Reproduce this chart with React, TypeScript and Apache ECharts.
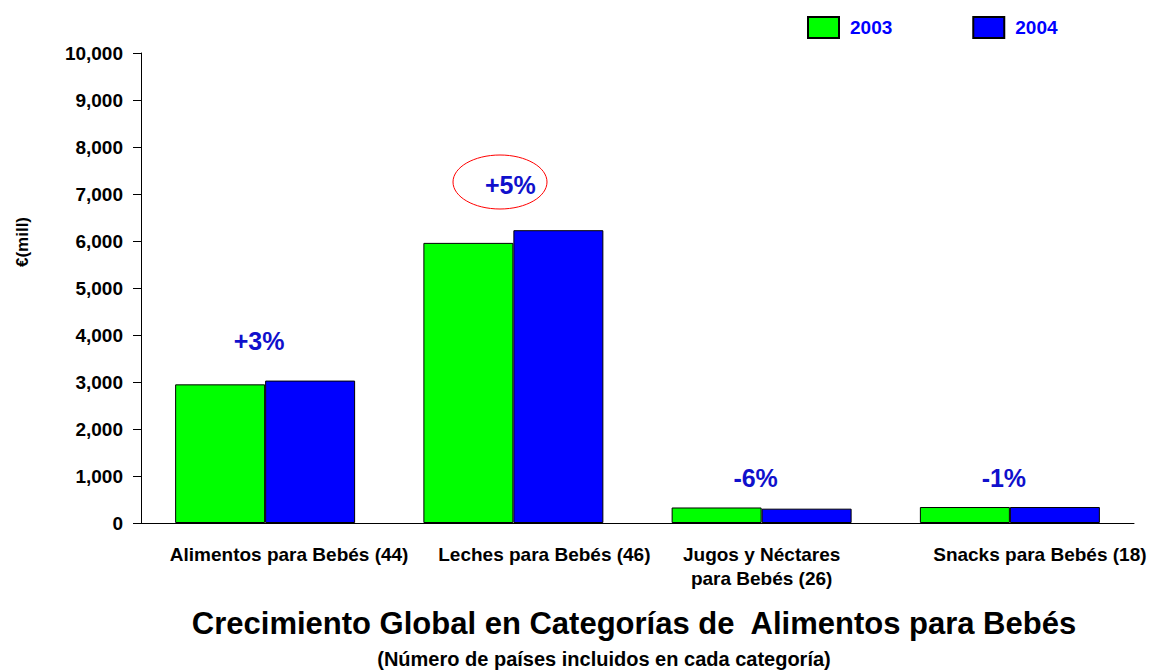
import React, { useEffect, useRef } from "react";
import * as echarts from "echarts";

const categories = [
  "Alimentos para Bebés (44)",
  "Leches para Bebés (46)",
  "Jugos y Néctares\npara Bebés (26)",
  "Snacks para Bebés (18)",
];
const values2003 = [2950, 5960, 330, 340];
const values2004 = [3030, 6230, 305, 340];
const growthLabels = ["+3%", "+5%", "-6%", "-1%"];
const yTicks = [0, 1000, 2000, 3000, 4000, 5000, 6000, 7000, 8000, 9000, 10000];

const FONT = "Liberation Sans, Arial, sans-serif";
const labelOffsets = [48, 62, 0, 60];
const growthY = [341, 185, 478, 478];

export default function App() {
  const ref = useRef<HTMLDivElement>(null);
  useEffect(() => {
    const chart = echarts.init(ref.current!, null, { renderer: "svg" });
    const rich: any = {};
    labelOffsets.forEach((o, i) => {
      rich["c" + i] = {
        fontFamily: FONT,
        fontWeight: "bold",
        fontSize: 19,
        color: "#000",
        lineHeight: 24,
        padding: [0, 0, 0, o],
      };
    });
    chart.setOption({
      animation: false,
      backgroundColor: "#fff",
      textStyle: { fontFamily: FONT },
      title: [
        {
          text: "Crecimiento Global en Categorías de  Alimentos para Bebés",
          left: 634,
          top: 608,
          textAlign: "center",
          padding: 0,
          textStyle: { fontFamily: FONT, fontWeight: "bold", fontSize: 31, color: "#000" },
        },
        {
          text: "(Número de países incluidos en cada categoría)",
          left: 604,
          top: 649,
          textAlign: "center",
          padding: 0,
          textStyle: { fontFamily: FONT, fontWeight: "bold", fontSize: 20, color: "#000" },
        },
      ],
      legend: {
        top: 16,
        left: 807,
        padding: 0,
        icon: "rect",
        itemWidth: 31,
        itemHeight: 21,
        itemGap: 80,
        textStyle: {
          fontFamily: FONT,
          fontWeight: "bold",
          fontSize: 19,
          color: "#0000FF",
          padding: [0, 0, 0, 6],
        },
        data: ["2003", "2004"],
      },
      grid: { left: 141, top: 53, right: 20, bottom: 148 },
      xAxis: {
        type: "category",
        data: categories,
        axisLine: { lineStyle: { color: "#000", width: 1 } },
        axisTick: { show: false },
        axisLabel: {
          interval: 0,
          margin: 19,
          formatter: (v: string, i: number) =>
            v.split("\n").map((l) => `{c${i}|${l}}`).join("\n"),
          rich,
        },
      },
      yAxis: {
        type: "value",
        min: 0,
        max: 10000,
        interval: 1000,
        axisLine: { show: true, lineStyle: { color: "#000", width: 1 } },
        axisTick: { show: true, length: 8, lineStyle: { color: "#000" } },
        splitLine: { show: false },
        axisLabel: {
          margin: 18,
          fontFamily: FONT,
          fontWeight: "bold",
          fontSize: 19,
          color: "#000",
          formatter: (v: number) => (yTicks.includes(v) ? v.toLocaleString("en-US") : ""),
        },
      },
      series: [
        {
          name: "2003",
          type: "bar",
          data: values2003,
          barGap: "0%",
          barCategoryGap: "27.5%",
          itemStyle: { color: "#00FF00", borderColor: "#000", borderWidth: 1 },
        },
        {
          name: "2004",
          type: "bar",
          data: values2004,
          itemStyle: { color: "#0000FF", borderColor: "#000", borderWidth: 1 },
        },
      ],
    });
    const centers = categories.map((_, i) => chart.convertToPixel({ xAxisIndex: 0 }, i) as number);
    chart.setOption({
      graphic: [
        {
          type: "text",
          x: 22,
          y: 242,
          rotation: Math.PI / 2,
          style: {
            text: "€(mill)",
            fontFamily: FONT,
            fontWeight: "bold",
            fontSize: 17,
            fill: "#000",
            align: "center",
            verticalAlign: "middle",
          },
        },
        {
          type: "ellipse",
          shape: { cx: 500, cy: 182, rx: 47, ry: 27 },
          style: { fill: "none", stroke: "#FF0000", lineWidth: 1 },
        },
        ...growthLabels.map((t, i) => ({
          type: "text",
          x: centers[i] + (i === 1 ? -3 : -6),
          y: growthY[i],
          style: {
            text: t,
            fontFamily: FONT,
            fontWeight: "bold",
            fontSize: 25,
            fill: "#1010CC",
            align: "center",
            verticalAlign: "middle",
          },
        })),
      ],
    });
    return () => chart.dispose();
  }, []);
  return <div ref={ref} style={{ width: 1154, height: 671, position: "absolute", left: 0, top: 0 }} />;
}
